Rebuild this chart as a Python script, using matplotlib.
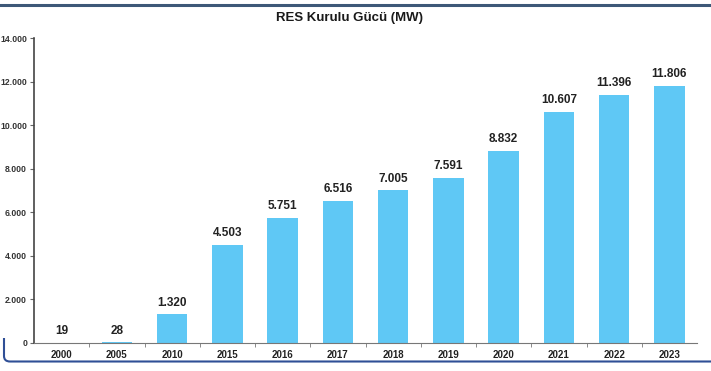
import matplotlib
matplotlib.use('Agg')
import matplotlib.pyplot as plt
from matplotlib.path import Path
from matplotlib.patches import PathPatch
from matplotlib.lines import Line2D

years = ['2000', '2005', '2010', '2015', '2016', '2017',
         '2018', '2019', '2020', '2021', '2022', '2023']
capacity_mw = [19, 28, 1320, 4503, 5751, 6516, 7005, 7591, 8832, 10607, 11396, 11806]
yticks = [0, 2000, 4000, 6000, 8000, 10000, 12000, 14000]

plt.rcParams['font.family'] = ['Liberation Sans', 'DejaVu Sans']

W, H = 711, 371
fig = plt.figure(figsize=(W / 100, H / 100), dpi=100)
ax = fig.add_axes([34 / W, 28 / H, 663 / W, 305 / H])

x = range(len(years))
ax.bar(x, capacity_mw, width=0.55, color='#5fc8f5', zorder=2)

# thousands with a dot, Turkish style
fmt = lambda v: f'{v:,}'.replace(',', '.')

for i, v in zip(x, capacity_mw):
    ax.annotate(fmt(v), xy=(i, v), xytext=(0, 4), textcoords='offset points',
                ha='center', va='bottom', fontsize=8.5, fontweight='bold', color='#222222')

ax.set_xlim(-0.5, len(years) - 0.5)
ax.set_ylim(0, 14000)
ax.set_yticks(yticks)
ax.set_yticklabels([fmt(t) for t in yticks], fontsize=6.2, fontweight='bold', color='#333333')

# category labels centred, tick marks between the bars
ax.set_xticks(list(x))
ax.set_xticklabels(years, fontsize=7, fontweight='bold', color='#222222')
ax.tick_params(axis='x', length=0, pad=5)
ax.set_xticks([i + 0.5 for i in range(len(years) - 1)], minor=True)
ax.tick_params(axis='x', which='minor', length=3, color='#777777', direction='out')
ax.tick_params(axis='y', length=3, color='#666666', pad=2)

for side in ('top', 'right'):
    ax.spines[side].set_visible(False)
ax.spines['left'].set_color('#444444')
ax.spines['bottom'].set_color('#777777')
ax.spines['left'].set_linewidth(1.2)

fig.text(349 / W, 1 - 18 / H, 'RES Kurulu Gücü (MW)', ha='center', va='center',
         fontsize=9.5, fontweight='bold', color='#1a1a1a')

# page frame: dark rule at the top, rounded corner at bottom left
px = lambda xp, yp: (xp / W, 1 - yp / H)
verts = [px(4, 338), px(4, 356), px(4, 361.5), px(10, 361.5), px(W + 5, 361.5)]
codes = [Path.MOVETO, Path.LINETO, Path.CURVE3, Path.CURVE3, Path.LINETO]
fig.patches.append(PathPatch(Path(verts, codes), transform=fig.transFigure, fill=False,
                             edgecolor='#2f4f96', linewidth=1.5))
fig.add_artist(Line2D([0, 1], [1 - 4.5 / H, 1 - 4.5 / H], transform=fig.transFigure,
                      color='#3d5878', linewidth=2.2))

fig.savefig('out.png', dpi=100)
